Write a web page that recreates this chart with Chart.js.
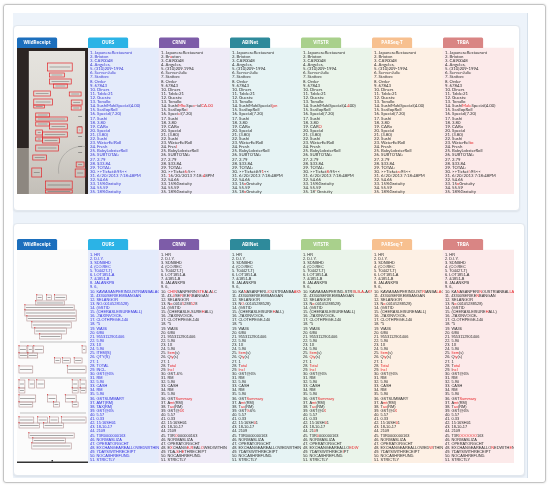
<!DOCTYPE html>
<html>
<head>
<meta charset="UTF-8">
<title>WildReceipt recognition results</title>
<script src="https://cdn.jsdelivr.net/npm/chart.js"></script>
<style>
  body { margin: 0; background: #fff; }
  #frame { position: absolute; left: 3px; top: 4px; width: 541px; height: 477px;
           border: 1px solid #c4c4c4; border-radius: 3px; box-shadow: 0 0 2px rgba(0,0,0,.18); }
  #area  { position: absolute; left: 13px; top: 13px; width: 514px; height: 465px;
           background: #edf3fa; border-right: 1px solid #d6e0ea; }
  .card  { position: absolute; background: #fff; border: 1px solid #e1e7ee; border-radius: 4px;
           box-shadow: 0 1px 2px rgba(0,0,0,.07); box-sizing: border-box; }
  canvas { position: absolute; }
</style>
</head>
<body>
<div id="frame"></div>
<div id="area"></div>
<div class="card" style="left:13px;top:25px;width:507px;height:186px"></div>
<div class="card" style="left:13px;top:223px;width:512px;height:253px"></div>
<canvas id="topChart" width="507" height="186" style="left:13px;top:25px"></canvas>
<canvas id="bottomChart" width="512" height="253" style="left:13px;top:223px"></canvas>

<script>
// ---- data -------------------------------------------------------------
const methods = ['WildReceipt', 'OURS', 'CRNN', 'ABINet', 'VITSTR', 'PARSeq-T', 'TRBA'];

// receipt 1: ground-truth style reading (OURS column)
const topTruth = [
  'JapaneseRestaurant', 'Brixton', 'CA90048', 'Angeles,', '(310)209-1994', 'Server:Julie',
  'Station:', 'Order', '67843', 'Diners', 'Table:21', 'Guests:', 'Tonallo',
  'SushiMakiSpecial(4.00)', 'ScallopRoll', 'Special(7.20)', 'Sushi', '3.80', 'CARo', 'Special',
  '(3.80)', 'Sushi', 'WaterEelRoll', 'Fresh', 'BabyLobsterRoll', 'SUBTOTAL:', '2.79', '$33.84',
  'TOTAL:', '>>Ticket#:95<<', '6/20/2013 7:18:48PM', '54.66', '15%Gratuity', '55.59', '18%Gratuity'
];
// lines that differ from it, {..} = wrong characters (red)
const topCrnn = [[2, 'Br{a}xton'], [5, '(310)209{.}1994'], [14, 'Sushi{Mke}Spe{c-}ial{CA.00}'],
  [15, 'ScallopRo{i}'], [16, 'Speci{e}l(7.20)'], [24, 'Fres{l}'], [30, '>>Ticket{6:}5<<'],
  [31, '{1}6/20/2013 7:18:{4}8PM']];
const topAbinet = [[14, 'SushiMakiSpecial{(pn}'], [30, '>>Ticket#:9{1}<<'], [33, '15{x}Gratuity'],
  [35, '18{x}Gratuity']];
const topVitstr = [[14, 'SushiMakiSpecial(4{.4}00)'], [19, 'CAR{O}'], [30, '>>Ticket{8}:95<<'],
  [35, '18{*}Gratuity']];
const topParseq = [[30, '>>Ticket{a}:95<<']];
const topTrba = [[14, 'Sushi{Male}Special(4.00)'], [23, 'WaterEel{to}'], [30, '>>Ticket{!}:95<<'],
  [33, '15{x}Gratuity']];

// receipt 2
const bottomTruth = [
  'HR', 'D.I.Y.', 'SDNBHD', '(CO.REC', '704427-T)', 'LOT1851-A', '&1851-B', 'JALANKPB', '6,',
  'KAWASANPERINDUSTRIANBALAC', '43300SERIKEMBANGAN', 'SELANGOR', 'NO.00105285528)', '(GSTID',
  '(CHERASLEISUREMALL)', '-TAXINVOICE-', 'CLOTHPEGE-140', '*5', 'WA36', '6/80', '9553112901406',
  '5.90', '1X', '5.90', 'ITEM(S)', 'QTY(S)', '1', 'TOTAL', 'INCL.', 'GST@6%', 'RM', '5.90', 'CASH',
  'RM', '5.90', 'GSTSUMMARY', 'AMT(RM)', 'TAX(RM)', 'GST@6%', '5.57', '0.33', '15:16SH01',
  '18-10-17', '2109', 'T3R0000000163', 'NORMASLIZA', 'OPERATORGCHT', 'EXCHANGEAREALLOWEDWITHIN',
  '7DAYSWITHRECEIPT', 'NOCASHREFUND.', 'STRICTLY'
];
const bottomCrnn = [[10, '{CHIN}SANPERIN{STE}A{L}A{L}C'], [11, '43-{0}SE{R}IKE{R}BANGAN'],
  [13, 'N{o}.0010{5}288{52}8'], [15, '(CHERASLE{-}SURE{H}ALL)'], [25, 'I{tem}(s)'], [26, 'Q{ty}(s)'],
  [28, 'T{otal}'], [29, 'I{ncl}'], [30, 'GST{-}6%'], [36, 'GST{Summary}'], [37, 'A{mt}(RM)'],
  [38, 'T{ax}(RM)'], [39, 'GST@{6X}'], [45, 'T3R{O}000000163'], [48, 'E{X}CHANG{E-R}EAL{O}WEDWITHIN'],
  [49, '7DA{-S}H{E}THRECEIPT']];
const bottomAbinet = [[10, 'KA{N}ASANPERI{-IO}USTRIANBA{AKN}C'], [13, 'N{O}.00105288528)'],
  [15, '(CHERASLEISURE{H}ALL)'], [25, '{Item}(s)'], [26, 'Q{ty}(s)'], [28, 'T{otal}'], [29, '{Incl}'],
  [36, 'GST{Summary}'], [37, 'A{mt}(RM)'], [38, 'T{ax}(RM)'], [39, 'GST{%}6%'], [42, '15:16SH{0}1']];
const bottomVitstr = [[10, 'KAWASANPERIND{-}STR{IB-B-A-}A{KN}C'], [13, 'N{o}.00105288528)'],
  [25, '{Item}(s)'], [26, '{Qty}(s)'], [28, '{Total}'], [29, '{Incl}'], [36, 'GST{Summary}'],
  [37, 'A{mt}(RM)'], [38, 'T{ax}(RM)'], [39, 'GST@6{X}'], [42, '15:16SH{0}1'], [44, '21{0}9'],
  [45, 'T3R{0}000000163'], [48, 'EXCHANGEAREALLO{EDW}'], [49, '7DAYSWITHRECE{I}PT']];
const bottomParseq = [[10, 'KAWASANPERINDUST{R}IANBA{LA}C'], [13, 'N{o}.00105288528)'],
  [25, '{Item}(s)'], [26, 'Q{ty}(s)'], [28, '{Total}'], [29, '{Incl}'], [37, 'A{mt}(RM)'],
  [38, 'T{ax}(RM)'], [39, 'GST@6{X}'], [42, '15:16SH{0}1'], [48, 'EXCHANGEAREALLOWED{W}ITHIN']];
const bottomTrba = [[10, 'KA{N}ASANPERI{N}OUSTRIANBAL{LAC}'], [11, '43300SERIKE{N}BANGAN'],
  [13, 'N{o}.00105288528)'], [15, '(CHERASLEISURE{H}ALL)'], [25, '{Item}(s)'], [26, 'Q{ty}(s)'],
  [28, 'T{otal}'], [29, 'I{ncl}'], [36, 'GST{Summary}'], [37, 'A{mt}(RM)'], [38, 'T{ax}(RM)'],
  [45, 'T3R{OOOOOO}163'], [48, 'EXCHANGEAREALLO{N}EDWITH{E}N']];

// ---- styles -----------------------------------------------------------
const headerColors = ['#1c6fbd', '#2bb3e6', '#7d5ca8', '#2e8a9b', '#a9d08c', '#f7c08f', '#d98584'];
const columnFills  = ['#c9c3b9', '#e4ebfb', '#efebf7', '#e6f3f4', '#eaf4ea', '#fdf0e4', '#fceaea'];
const RED = '#e8262a';

function applyEdits(base, edits) {
  const out = base.slice();
  edits.forEach(([n, t]) => { out[n - 1] = t; });
  return out;
}

const panels = {
  topChart: {
    lines: [null, topTruth, applyEdits(topTruth, topCrnn), applyEdits(topTruth, topAbinet),
            applyEdits(topTruth, topVitstr), applyEdits(topTruth, topParseq), applyEdits(topTruth, topTrba)],
    yMin: -2.66, bgTop: -0.1, tail: 0.5,
    font: "4.3px Lato", oursColor: '#3b3bd4', textColor: '#333',
    photo: 'top', photoFill: '#c9c3b9', pad: { left: 4, right: 6, top: 12.5, bottom: 17 }
  },
  bottomChart: {
    lines: [null, bottomTruth, applyEdits(bottomTruth, bottomCrnn), applyEdits(bottomTruth, bottomAbinet),
            applyEdits(bottomTruth, bottomVitstr), applyEdits(bottomTruth, bottomParseq), applyEdits(bottomTruth, bottomTrba)],
    yMin: -2.77, bgTop: -0.1, tail: 0.7,
    font: "3.9px 'Liberation Sans'", oursColor: '#2f2fe0', textColor: '#2c2c2c',
    photo: 'bottom', photoFill: '#f7f7f7', pad: { left: 4, right: 11, top: 16, bottom: 13 }
  }
};

// receipt photo sketches: boxes in px of a 72 x 146 / 72 x 213 cell
const topPhotoBoxes = [[31,15,56,23],[33,25,48,29],[33,31,55,36],[37,36,51,40],[17,43,34,48],[53,44,65,48],
  [17,51,36,57],[55,52,66,57],[17,57,28,60],[55,58,65,62],[19,65,33,69],[19,69,51,73],[19,74,33,78],
  [33,76,51,81],[61,79,66,85],[19,82,26,87],[26,84,51,89],[19,89,26,93],[26,90,43,95],[19,97,42,103],
  [16,107,30,112],[60,114,68,119],[15,120,25,129],[59,121,69,129],[29,133,56,141],[29,142,56,145]];
const topPhotoPrices = [[62,68],[62,78],[62,88],[62,98],[62,104]];
const bottomPhotoBoxes = [[20,45,26,50],[30,45,35,50],[38,45,50,50],[19,51,48,55],[8,55,58,60],[8,60,60,66],
  [10,66,60,71],[15,72,55,78],[18,78,50,84],[23,84,45,89],[2,96,10,103],[11,96,16,103],[17,96,27,103],
  [66,96,70,103],[2,103,11,108],[11,103,21,108],[38,108,44,113],[46,108,54,113],[58,108,66,113],
  [2,116,16,123],[51,116,70,123],[2,130,8,138],[12,130,18,138],[20,130,28,138],[56,130,62,138],
  [64,130,70,138],[2,138,8,143],[56,138,62,143],[64,138,70,143],[2,145,19,152],[31,145,40,152],
  [49,145,60,152],[2,152,16,157],[37,152,43,157],[56,152,62,157],[2,167,17,173],[21,167,31,173],
  [33,167,42,173],[45,167,70,173],[2,173,23,178],[27,173,47,178],[12,183,58,188],[16,188,49,193],
  [15,193,55,199]];

function drawPhoto(ctx, kind, x0, y0, w, h) {
  ctx.save();
  ctx.beginPath(); ctx.rect(x0, y0, w, h); ctx.clip();
  if (kind === 'top') {
    const sx = w / 72, sy = h / 146;
    ctx.fillStyle = '#2c2523'; ctx.fillRect(x0, y0, w, h);
    ctx.fillStyle = '#8d8780'; ctx.fillRect(x0, y0 + 100 * sy, 13 * sx, h);
    const g = ctx.createLinearGradient(0, y0, 0, y0 + h);
    g.addColorStop(0, '#e6e4df'); g.addColorStop(0.55, '#dad7d1'); g.addColorStop(1, '#c3bfb8');
    ctx.fillStyle = g; ctx.fillRect(x0 + 12 * sx, y0 + 3 * sy, 57 * sx, h);
    ctx.strokeStyle = 'rgba(110,110,110,.45)'; ctx.lineWidth = 0.7;
    ctx.beginPath(); ctx.arc(x0 + 66 * sx, y0 + 122 * sy, 24 * sx, Math.PI * 0.95, Math.PI * 1.55); ctx.stroke();
    ctx.fillStyle = 'rgba(70,70,70,.5)';
    topPhotoPrices.forEach(([a, b]) => ctx.fillRect(x0 + a * sx, y0 + b * sy, 4 * sx, 0.9));
    topPhotoBoxes.forEach(([a, b, c, d]) => {
      ctx.fillStyle = 'rgba(60,60,60,.4)';
      ctx.fillRect(x0 + (a + 2) * sx, y0 + (b + d) / 2 * sy - 0.45, (c - a - 4) * sx, 0.9);
      ctx.strokeStyle = '#e2262b'; ctx.lineWidth = 0.7;
      ctx.strokeRect(x0 + a * sx, y0 + b * sy, (c - a) * sx, (d - b) * sy);
    });
  } else {
    const sx = w / 72, sy = h / 213;
    ctx.fillStyle = '#fbfbfb'; ctx.fillRect(x0, y0, w, h);
    ctx.strokeStyle = '#9a9a9a'; ctx.lineWidth = 0.6;
    [92, 128, 163].forEach(r => {
      ctx.beginPath(); ctx.moveTo(x0 + 3 * sx, y0 + r * sy); ctx.lineTo(x0 + 70 * sx, y0 + r * sy); ctx.stroke();
    });
    bottomPhotoBoxes.forEach(([a, b, c, d]) => {
      ctx.fillStyle = 'rgba(80,80,80,.5)';
      ctx.fillRect(x0 + (a + 1) * sx, y0 + (b + d) / 2 * sy - 0.5, (c - a - 2) * sx, 1);
      ctx.strokeStyle = '#b39292'; ctx.lineWidth = 0.6;
      ctx.strokeRect(x0 + a * sx, y0 + b * sy, (c - a) * sx, (d - b) * sy);
      ctx.fillStyle = '#e2262b';
      ctx.fillRect(x0 + a * sx - 0.5, y0 + b * sy - 0.8, 1, 1);
    });
    ctx.fillStyle = '#333'; ctx.fillRect(x0, y0 + h - 1.5, w, 1.5);
    ctx.fillRect(x0 + 35 * sx, y0 + h - 3, 1.5, 1.5);
  }
  ctx.restore();
}

function drawRich(ctx, str, x, y, base) {
  str.split(/(\{[^}]*\})/).forEach(p => {
    if (!p) return;
    const red = p[0] === '{';
    const t = red ? p.slice(1, -1) : p;
    ctx.fillStyle = red ? RED : base;
    ctx.fillText(t, x, y);
    x += ctx.measureText(t).width;
  });
}

const panelPlugin = {
  id: 'panelText',
  afterDatasetsDraw(chart) {
    const cfg = panels[chart.canvas.id];
    const { ctx } = chart;
    const xs = chart.scales.x, ys = chart.scales.y;
    const colW = xs.width / methods.length;
    const hTop = ys.getPixelForValue(cfg.yMin), hBot = ys.getPixelForValue(cfg.bgTop);
    const bBot = ys.getPixelForValue(ys.max);
    methods.forEach((name, i) => {
      const left = xs.getPixelForValue(i) - colW / 2;
      // header tab
      ctx.fillStyle = headerColors[i];
      ctx.beginPath();
      ctx.roundRect(left, hTop, colW * 0.565, hBot - hTop, [1.5, 1.5, 0, 0]);
      ctx.fill();
      ctx.fillStyle = '#fff';
      ctx.font = "bold 4.6px 'Open Sans'";
      ctx.textAlign = 'center'; ctx.textBaseline = 'middle';
      ctx.fillText(name, left + colW * 0.2825, (hTop + hBot) / 2 + 0.3);
      ctx.textAlign = 'left';
      if (i === 0) { drawPhoto(ctx, cfg.photo, left, hBot, colW, bBot - hBot); return; }
      ctx.save();
      ctx.beginPath(); ctx.rect(left, hBot, colW, bBot - hBot); ctx.clip();
      ctx.font = cfg.font;
      const base = i === 1 ? cfg.oursColor : cfg.textColor;
      cfg.lines[i].forEach((t, k) => {
        drawRich(ctx, (k + 1) + '. ' + t, left + 2, ys.getPixelForValue(k + 1), base);
      });
      ctx.restore();
    });
  }
};

function makePanel(id) {
  const cfg = panels[id];
  const rows = cfg.lines[1].length;
  const fills = columnFills.slice();
  fills[0] = cfg.photoFill;
  return new Chart(document.getElementById(id), {
    type: 'bar',
    data: {
      labels: methods,
      datasets: [{
        label: 'column',
        data: methods.map(() => [cfg.bgTop, rows + cfg.tail]),
        backgroundColor: fills,
        borderWidth: 0,
        barPercentage: 1,
        categoryPercentage: 1
      }]
    },
    options: {
      responsive: false,
      animation: false,
      events: [],
      layout: { padding: cfg.pad },
      plugins: { legend: { display: false }, tooltip: { enabled: false } },
      scales: {
        x: { display: false },
        y: { display: false, reverse: true, min: cfg.yMin, max: rows + cfg.tail }
      }
    },
    plugins: [panelPlugin]
  });
}

makePanel('topChart');
makePanel('bottomChart');
</script>
</body>
</html>
